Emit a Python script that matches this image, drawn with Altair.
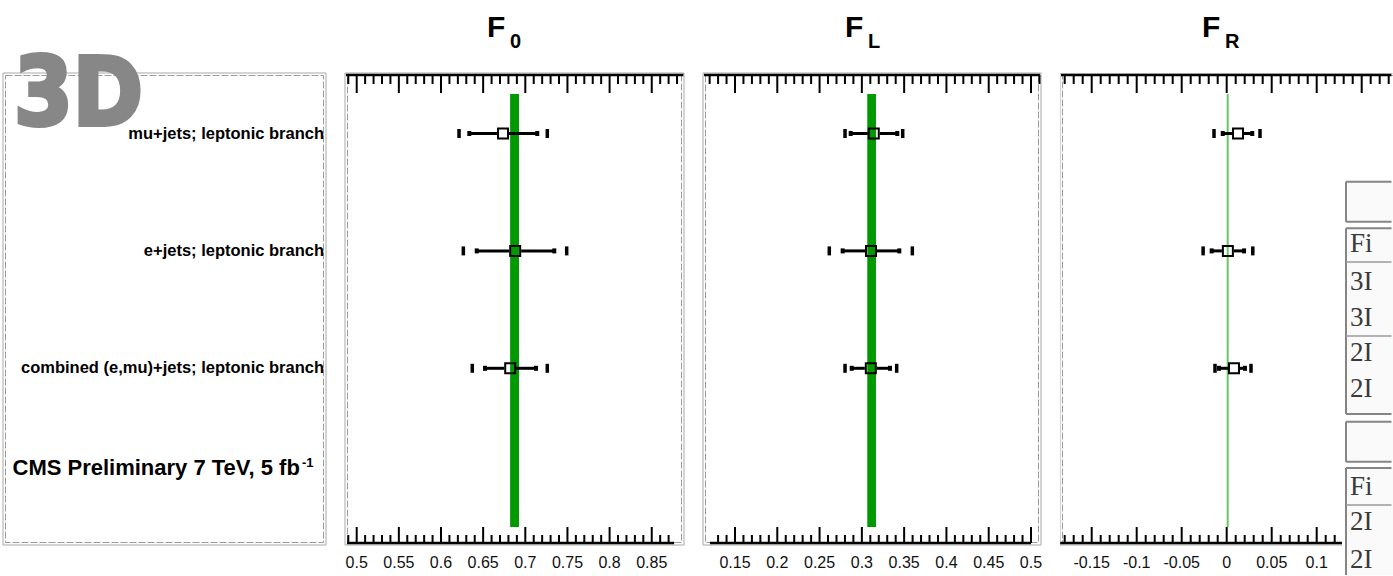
import altair as alt
import numpy as np
import pandas as pd

# ---------------------------------------------------------------- data
ROW_LABELS = [
    "mu+jets; leptonic branch",
    "e+jets; leptonic branch",
    "combined (e,mu)+jets; leptonic branch",
]
ROW_POS = [0, 1, 2]

# helicity fractions: central value, inner (stat.) and outer (total) intervals
F0_CENTER = [0.6736, 0.6880, 0.6821]
F0_IN_LO = [0.6336, 0.6424, 0.6522]
F0_IN_HI = [0.7142, 0.7344, 0.7127]
F0_OUT_LO = [0.6214, 0.6265, 0.6371]
F0_OUT_HI = [0.7261, 0.7491, 0.7261]

FL_CENTER = [0.3141, 0.3108, 0.3106]
FL_IN_LO = [0.2868, 0.2773, 0.2880]
FL_IN_HI = [0.3419, 0.3443, 0.3333]
FL_OUT_LO = [0.2801, 0.2615, 0.2801]
FL_OUT_HI = [0.3483, 0.3597, 0.3412]

FR_CENTER = [0.0126, 0.0013, 0.0081]
FR_IN_LO = [-0.0044, -0.0167, -0.0086]
FR_IN_HI = [0.0284, 0.0193, 0.0203]
FR_OUT_LO = [-0.0141, -0.0262, -0.0130]
FR_OUT_HI = [0.0370, 0.0290, 0.0270]

# Standard Model expectation (band for F0 / FL, line for FR)
SM_F0 = [0.682, 0.6925]
SM_FL = [0.3064, 0.3167]
SM_FR = 0.0011

# axis scales, axis-line extents and labelled ticks
F0_DOMAIN = [0.48612, 0.88826]
FL_DOMAIN = [0.11216, 0.51183]
FR_DOMAIN = [-0.18522, 0.18478]
F0_TOP_AXIS, F0_BOTTOM_AXIS = [0.4873, 0.8875], [0.4885, 0.8765]
FL_TOP_AXIS, FL_BOTTOM_AXIS = [0.1134, 0.5106], [0.1204, 0.5000]
FR_TOP_AXIS, FR_BOTTOM_AXIS = [-0.1841, 0.1830], [-0.1850, 0.1830]
F0_TICKS = [0.5, 0.55, 0.6, 0.65, 0.7, 0.75, 0.8, 0.85]
F0_TICK_TEXT = ["0.5", "0.55", "0.6", "0.65", "0.7", "0.75", "0.8", "0.85"]
FL_TICKS = [0.15, 0.2, 0.25, 0.3, 0.35, 0.4, 0.45, 0.5]
FL_TICK_TEXT = ["0.15", "0.2", "0.25", "0.3", "0.35", "0.4", "0.45", "0.5"]
FR_TICKS = [-0.15, -0.1, -0.05, 0.0, 0.05, 0.1]
FR_TICK_TEXT = ["-0.15", "-0.1", "-0.05", "0", "0.05", "0.1"]

# side table (only its left edge is in view)
TABLE_TEXT = ["Fi", "3I", "3I", "2I", "2I", "Fi", "2I", "2I"]

# ---------------------------------------------------------------- layout
SANS = "Liberation Sans, Arial, Helvetica, sans-serif"
SERIF = "Liberation Serif, Times New Roman, serif"
H = 502           # panel height (frames use FRAME_H, below it the table continues)
FRAME_H = 472
ROW0_PX, ROW_STEP_PX = 60.5, 117.4
Y_DOMAIN = [-ROW0_PX / ROW_STEP_PX, (H - ROW0_PX) / ROW_STEP_PX]
BAND_ROWS = [(21 - ROW0_PX) / ROW_STEP_PX, (454 - ROW0_PX) / ROW_STEP_PX]
yscale = alt.Scale(domain=Y_DOMAIN, reverse=True, nice=False, zero=False)
one = pd.DataFrame({"k": [0]})


def frame(w, clip=False):
    x2 = w + 8 if clip else w
    outer = alt.Chart(one).mark_rect(
        fillOpacity=0, stroke="#a9a9a9", strokeWidth=1, clip=clip
    ).encode(x=alt.value(0), x2=alt.value(x2), y=alt.value(0), y2=alt.value(FRAME_H))
    inner = alt.Chart(one).mark_rect(
        fillOpacity=0, stroke="#9c9c9c", strokeWidth=1, strokeDash=[7, 2], clip=clip
    ).encode(x=alt.value(2.5), x2=alt.value(x2 - 2.5), y=alt.value(2.5),
             y2=alt.value(FRAME_H - 2.5))
    return [outer, inner]


def tick_frame(rng):
    lo = np.ceil(rng[0] / 0.01 - 1e-6)
    hi = np.floor(rng[1] / 0.01 + 1e-6)
    v = np.arange(lo, hi + 1) / 100.0
    major = np.isclose(np.round(v / 0.05), v / 0.05, atol=1e-6)
    return pd.DataFrame({"v": np.round(v, 4), "major": major})


def axis_layers(xs, top_rng, bot_rng, ticks, tick_text):
    X = alt.X("v:Q", scale=xs, axis=None)
    layers = []
    # top axis: line at y=2, ticks pointing down
    top = tick_frame(top_rng)
    layers.append(alt.Chart(pd.DataFrame({"lo": [top_rng[0]], "hi": [top_rng[1]]}))
                  .mark_rule(color="black", strokeWidth=2.5)
                  .encode(x=alt.X("lo:Q", scale=xs, axis=None), x2="hi:Q", y=alt.value(2)))
    layers.append(alt.Chart(top[top.major]).mark_rule(color="black", strokeWidth=2)
                  .encode(x=X, y=alt.value(2), y2=alt.value(20)))
    layers.append(alt.Chart(top[~top.major]).mark_rule(color="black", strokeWidth=2)
                  .encode(x=X, y=alt.value(2), y2=alt.value(11)))
    # bottom axis: line at y=470, ticks pointing up
    bot = tick_frame(bot_rng)
    layers.append(alt.Chart(pd.DataFrame({"lo": [bot_rng[0]], "hi": [bot_rng[1]]}))
                  .mark_rule(color="black", strokeWidth=2.5)
                  .encode(x=alt.X("lo:Q", scale=xs, axis=None), x2="hi:Q", y=alt.value(470)))
    layers.append(alt.Chart(bot[bot.major]).mark_rule(color="black", strokeWidth=2)
                  .encode(x=X, y=alt.value(470), y2=alt.value(454)))
    layers.append(alt.Chart(bot[~bot.major]).mark_rule(color="black", strokeWidth=2)
                  .encode(x=X, y=alt.value(470), y2=alt.value(462)))
    labels = pd.DataFrame({"v": ticks, "t": tick_text})
    layers.append(alt.Chart(labels).mark_text(font=SANS, fontSize=16, color="#111",
                                               baseline="middle", align="center")
                  .encode(x=X, y=alt.value(490), text="t:N"))
    return layers


def measurement_layers(xs, c, il, ih, ol, oh):
    df = pd.DataFrame({"row": ROW_POS, "c": c, "il": il, "ih": ih, "ol": ol, "oh": oh})
    Y = alt.Y("row:Q", scale=yscale, axis=None)
    base = alt.Chart(df)
    seg_l = base.mark_rule(color="black", strokeWidth=3, x2Offset=-6).encode(
        x=alt.X("il:Q", scale=xs, axis=None), x2="c:Q", y=Y)
    seg_r = base.mark_rule(color="black", strokeWidth=3, xOffset=6).encode(
        x=alt.X("c:Q", scale=xs, axis=None), x2="ih:Q", y=Y)
    caps = base.transform_fold(["il", "ih"], as_=["k", "v"]).mark_tick(
        orient="vertical", color="black", thickness=4, size=5, opacity=1
    ).encode(x=alt.X("v:Q", scale=xs, axis=None), y=Y)
    brackets = base.transform_fold(["ol", "oh"], as_=["k", "v"]).mark_tick(
        orient="vertical", color="black", thickness=3.5, size=9, opacity=1
    ).encode(x=alt.X("v:Q", scale=xs, axis=None), y=Y)
    square = base.mark_point(shape="square", size=100, filled=False, color="black",
                             strokeWidth=2, opacity=1).encode(
        x=alt.X("c:Q", scale=xs, axis=None), y=Y)
    return [seg_l, seg_r, caps, brackets, square]


def title_layers(sub):
    f = alt.Chart(one).mark_text(text="F", font=SANS, fontWeight="bold", fontSize=30,
                                 align="left", baseline="alphabetic", color="black"
                                 ).encode(x=alt.value(142), y=alt.value(-36))
    s = alt.Chart(one).mark_text(text=sub, font=SANS, fontWeight="bold", fontSize=20,
                                 align="left", baseline="alphabetic", color="black"
                                 ).encode(x=alt.value(165), y=alt.value(-25))
    return [f, s]


def sm_band(xs, rng):
    df = pd.DataFrame({"lo": [rng[0]], "hi": [rng[1]], "y0": [BAND_ROWS[0]], "y1": [BAND_ROWS[1]]})
    return alt.Chart(df).mark_rect(color="#009a00").encode(
        x=alt.X("lo:Q", scale=xs, axis=None), x2="hi:Q",
        y=alt.Y("y0:Q", scale=yscale, axis=None), y2="y1:Q")


def sm_line(xs, v):
    df = pd.DataFrame({"v": [v], "y0": [BAND_ROWS[0]], "y1": [BAND_ROWS[1]]})
    return alt.Chart(df).mark_rule(color="#66c766", strokeWidth=2).encode(
        x=alt.X("v:Q", scale=xs, axis=None),
        y=alt.Y("y0:Q", scale=yscale, axis=None), y2="y1:Q")


# ---------------------------------------------------------------- label panel
W_LAB = 323
lab_df = pd.DataFrame({"row": ROW_POS, "label": ROW_LABELS})
anchor = alt.Chart(one).mark_rect(color="white").encode(
    x=alt.value(-3), x2=alt.value(-2), y=alt.value(-73), y2=alt.value(-72))
big3d = alt.Chart(one).mark_text(
    text="3D", font="DejaVu Sans Condensed, Liberation Sans Narrow, sans-serif",
    fontWeight="bold", fontSize=94, align="left", baseline="alphabetic",
    color="#878787", stroke="#878787", strokeWidth=4
).encode(x=alt.value(11), y=alt.value(52))
row_text = alt.Chart(lab_df).mark_text(
    font=SANS, fontWeight="bold", fontSize=16.5, align="right", baseline="middle", color="black"
).encode(x=alt.value(321), y=alt.Y("row:Q", scale=yscale, axis=None), text="label:N")
cms = alt.Chart(one).mark_text(
    text="CMS Preliminary 7 TeV, 5 fb", font=SANS, fontWeight="bold", fontSize=22,
    align="left", baseline="alphabetic", color="black"
).encode(x=alt.value(9.5), y=alt.value(402))
cms_sup = alt.Chart(one).mark_text(
    text="-1", font=SANS, fontWeight="bold", fontSize=13, align="left",
    baseline="alphabetic", color="black"
).encode(x=alt.value(299), y=alt.value(394))
label_panel = alt.layer(anchor, *frame(W_LAB), row_text, cms, cms_sup, big3d).properties(
    width=W_LAB, height=H)

# ---------------------------------------------------------------- F0 panel
W0 = 339
xs0 = alt.Scale(domain=F0_DOMAIN, nice=False, zero=False)
p0 = alt.layer(
    *frame(W0), sm_band(xs0, SM_F0),
    *axis_layers(xs0, F0_TOP_AXIS, F0_BOTTOM_AXIS, F0_TICKS, F0_TICK_TEXT),
    *measurement_layers(xs0, F0_CENTER, F0_IN_LO, F0_IN_HI, F0_OUT_LO, F0_OUT_HI),
    *title_layers("0"),
).properties(width=W0, height=H)

# ---------------------------------------------------------------- FL panel
WL = 338
xsL = alt.Scale(domain=FL_DOMAIN, nice=False, zero=False)
pL = alt.layer(
    *frame(WL), sm_band(xsL, SM_FL),
    *axis_layers(xsL, FL_TOP_AXIS, FL_BOTTOM_AXIS, FL_TICKS, FL_TICK_TEXT),
    *measurement_layers(xsL, FL_CENTER, FL_IN_LO, FL_IN_HI, FL_OUT_LO, FL_OUT_HI),
    *title_layers("L"),
).properties(width=WL, height=H)

# ---------------------------------------------------------------- FR panel + table
WR = 333
xsR = alt.Scale(domain=FR_DOMAIN, nice=False, zero=False)

TABLE_LEFT = 286
box_df = pd.DataFrame({"top": [108.7, 155.3, 348.7, 395.0],
                       "bottom": [148.7, 341.0, 388.7, 502.0]})
sep_df = pd.DataFrame({"py": [189.0, 263.0, 432.0]})
text_df = pd.DataFrame({"py": [171, 209, 245, 280, 316, 414, 449, 487], "t": TABLE_TEXT})

table_bg = alt.Chart(one).mark_rect(color="white").encode(
    x=alt.value(282), x2=alt.value(WR), y=alt.value(105), y2=alt.value(H))
boxes_fill = alt.Chart(box_df).mark_rect(color="#fafafa").encode(
    x=alt.value(TABLE_LEFT), x2=alt.value(WR),
    y=alt.Y("top:Q", scale=None), y2="bottom:Q")
box_top = alt.Chart(box_df).mark_rule(color="#858585", strokeWidth=2).encode(
    x=alt.value(TABLE_LEFT), x2=alt.value(WR - 1.5), y=alt.Y("top:Q", scale=None))
box_bot = alt.Chart(box_df[box_df.bottom < H]).mark_rule(color="#858585", strokeWidth=2).encode(
    x=alt.value(TABLE_LEFT), x2=alt.value(WR - 1.5), y=alt.Y("bottom:Q", scale=None))
box_left = alt.Chart(box_df).mark_rule(color="#858585", strokeWidth=2).encode(
    x=alt.value(TABLE_LEFT), y=alt.Y("top:Q", scale=None), y2="bottom:Q")
seps = alt.Chart(sep_df).mark_rule(color="#9a9a9a", strokeWidth=1.5).encode(
    x=alt.value(TABLE_LEFT), x2=alt.value(WR - 1.5), y=alt.Y("py:Q", scale=None))
table_text = alt.Chart(text_df).mark_text(
    font=SERIF, fontSize=27, align="left", baseline="middle", color="#3a3a3a", clip=True
).encode(x=alt.value(290), y=alt.Y("py:Q", scale=None), text="t:N")

pR = alt.layer(
    *frame(WR, clip=True), sm_line(xsR, SM_FR),
    *axis_layers(xsR, FR_TOP_AXIS, FR_BOTTOM_AXIS, FR_TICKS, FR_TICK_TEXT),
    *measurement_layers(xsR, FR_CENTER, FR_IN_LO, FR_IN_HI, FR_OUT_LO, FR_OUT_HI),
    *title_layers("R"),
    table_bg, boxes_fill, box_top, box_bot, box_left, seps, table_text,
).properties(width=WR, height=H)

chart = (
    alt.hconcat(label_panel, p0, pL, pR, spacing=19, bounds="flush", padding=0,
                background="white")
    .resolve_scale(x="independent", y="independent")
    .configure_view(strokeWidth=0)
)

chart.save("out.html", embed_options={"renderer": "svg", "actions": False})
